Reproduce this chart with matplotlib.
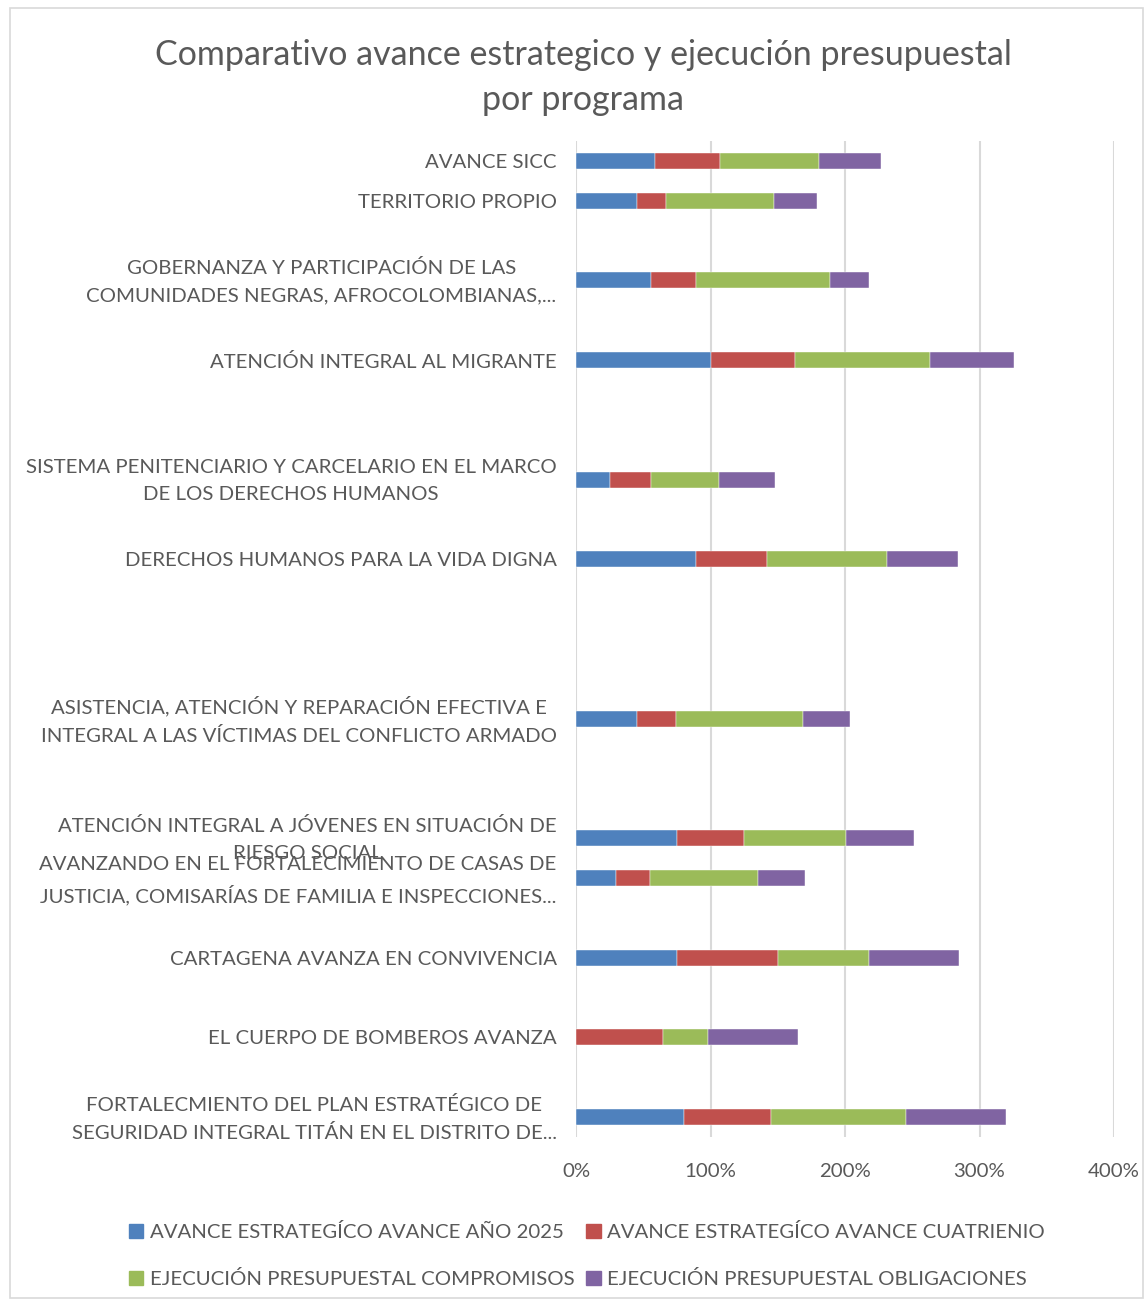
import matplotlib.pyplot as plt
import matplotlib.patches as mpatches
import matplotlib.transforms as mtransforms
import numpy as np

plt.rcParams['font.family'] = ['Lato', 'DejaVu Sans']

# Programas (de arriba hacia abajo) y su posición en el eje (hay huecos vacíos)
programas = [
    "AVANCE SICC",
    "TERRITORIO PROPIO",
    "GOBERNANZA Y PARTICIPACIÓN DE LAS\nCOMUNIDADES NEGRAS, AFROCOLOMBIANAS,...",
    "ATENCIÓN INTEGRAL AL MIGRANTE",
    "SISTEMA PENITENCIARIO Y CARCELARIO EN EL MARCO\nDE LOS DERECHOS HUMANOS",
    "DERECHOS HUMANOS PARA LA VIDA DIGNA",
    "ASISTENCIA, ATENCIÓN Y REPARACIÓN EFECTIVA E\nINTEGRAL A LAS VÍCTIMAS DEL CONFLICTO ARMADO",
    "ATENCIÓN INTEGRAL A JÓVENES EN SITUACIÓN DE\nRIESGO SOCIAL",
    "AVANZANDO EN EL FORTALECIMIENTO DE CASAS DE\nJUSTICIA, COMISARÍAS DE FAMILIA E INSPECCIONES...",
    "CARTAGENA AVANZA EN CONVIVENCIA",
    "EL CUERPO DE BOMBEROS AVANZA",
    "FORTALECMIENTO DEL PLAN ESTRATÉGICO DE\nSEGURIDAD INTEGRAL TITÁN EN EL DISTRITO DE...",
]
slots = [0, 1, 3, 5, 8, 10, 14, 17, 18, 20, 22, 24]

avance_2025 = [0.59, 0.45, 0.56, 1.00, 0.25, 0.89, 0.45, 0.75, 0.30, 0.75, 0.00, 0.80]
avance_cuatrienio = [0.48, 0.22, 0.33, 0.63, 0.31, 0.53, 0.29, 0.50, 0.25, 0.75, 0.65, 0.65]
compromisos = [0.74, 0.80, 1.00, 1.00, 0.50, 0.89, 0.95, 0.76, 0.80, 0.68, 0.33, 1.00]
obligaciones = [0.46, 0.32, 0.29, 0.63, 0.42, 0.53, 0.35, 0.50, 0.35, 0.67, 0.67, 0.75]

series = [
    ("AVANCE ESTRATEGÍCO AVANCE AÑO 2025", avance_2025, "#4F81BD"),
    ("AVANCE ESTRATEGÍCO AVANCE CUATRIENIO", avance_cuatrienio, "#C0504D"),
    ("EJECUCIÓN PRESUPUESTAL COMPROMISOS", compromisos, "#9BBB59"),
    ("EJECUCIÓN PRESUPUESTAL OBLIGACIONES", obligaciones, "#8064A2"),
]

txt = "#595959"
fig = plt.figure(figsize=(11.44, 13.01), dpi=100)
ax = fig.add_axes([0.5035, 0.1261, 0.4703, 0.7655])

left = np.zeros(len(programas))
handles = []
for name, vals, col in series:
    vals = np.array(vals)
    ax.barh(slots, vals, left=left, height=0.4, color=col, edgecolor='white', linewidth=0.3)
    left += vals
    handles.append(mpatches.Patch(color=col, label=name))

ax.set_xlim(0, 4)
ax.set_ylim(24.5, -0.5)
ax.set_xticks([0, 1, 2, 3, 4])
ax.set_xticklabels(["0%", "100%", "200%", "300%", "400%"])
ax.set_yticks(slots)
ax.set_yticklabels(programas, multialignment='center', linespacing=1.7)
ax.tick_params(axis='both', length=0, colors=txt, labelsize=14.7)
ax.tick_params(axis='y', pad=14)
ax.tick_params(axis='x', pad=19)
ax.grid(axis='x', color='#d9d9d9', linewidth=1.5)
ax.set_axisbelow(True)
for s in ax.spines.values():
    s.set_visible(False)

# subir un poco las etiquetas de dos líneas
subir = mtransforms.ScaledTranslation(0, 5 / 100, fig.dpi_scale_trans)
for lab in ax.get_yticklabels():
    if "\n" in lab.get_text():
        lab.set_transform(lab.get_transform() + subir)

fig.suptitle("Comparativo avance estrategico y ejecución presupuestal\npor programa",
             x=0.51, y=0.970, fontsize=24.5, color=txt, linespacing=1.5)

# orden para que la primera fila sea azul/rojo y la segunda verde/morado
orden = [handles[0], handles[2], handles[1], handles[3]]
fig.legend(handles=orden, loc='lower center', ncol=2, bbox_to_anchor=(0.513, -0.004),
           frameon=False, fontsize=14.7, labelcolor=txt, handlelength=0.7, handleheight=0.7,
           handletextpad=0.3, columnspacing=0.6, labelspacing=1.4)

fig.patches.append(mpatches.Rectangle((0.009, 0.002), 0.99, 0.992, transform=fig.transFigure,
                                      fill=False, edgecolor='#d9d9d9', linewidth=1.2))

fig.savefig("out.png", dpi=100)
